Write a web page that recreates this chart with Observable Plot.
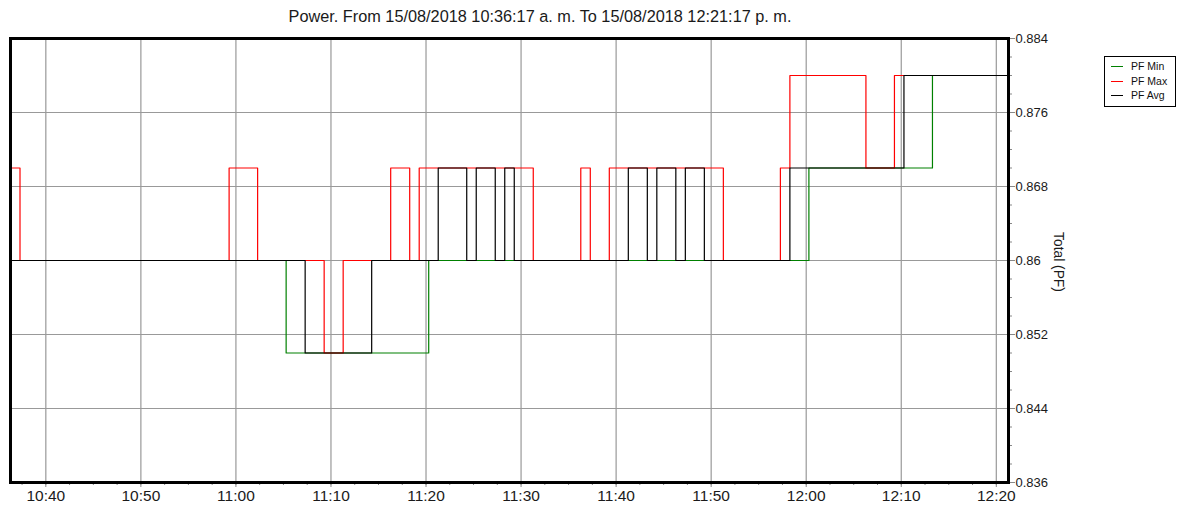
<!DOCTYPE html>
<html>
<head>
<meta charset="utf-8">
<script src="https://cdn.jsdelivr.net/npm/d3@7"></script>
<script src="https://cdn.jsdelivr.net/npm/@observablehq/plot@0.6"></script>
<style>
  html, body { margin: 0; padding: 0; background: #fff; }
  #wrap { position: relative; width: 1181px; height: 510px; font-family: "Liberation Sans", Arial, sans-serif; }
  #title { position: absolute; left: 0; width: 1080px; top: 7px; text-align: center; font-size: 16.3px; color: #1a1a1a; }
  #legend { position: absolute; left: 1104px; top: 56px; width: 72px; height: 51px; border: 1px solid #000; box-sizing: border-box; font-size: 10.5px; color: #111; }
  .row { position: absolute; left: 6px; width: 64px; height: 12px; }
  .sw { position: absolute; left: 0; top: 6px; width: 12px; height: 1px; }
  .tx { position: absolute; left: 20px; top: 0; line-height: 12px; white-space: nowrap; }
  #ylab { position: absolute; left: 1058px; top: 262px; transform: translate(-50%, -50%) rotate(90deg); font-size: 13.8px; color: #1a1a1a; white-space: nowrap; }
</style>
</head>
<body>
<div id="wrap">
  <div id="chart"></div>
  <div id="title"></div>
  <div id="ylab"></div>
  <div id="legend"></div>
</div>
<script>
// ---- data (step change points: segment start time and value) ----
const titleText = "Power. From 15/08/2018 10:36:17 a. m. To 15/08/2018 12:21:17 p. m.";
const yLabel = "Total (PF)";
const startTime = "10:36:17";
const endTime = "12:21:17";

const minTimes = ["10:36:17", "11:05:17", "11:20:17", "12:00:17", "12:13:17"];
const minValues = [0.86, 0.85, 0.86, 0.87, 0.88];

const maxTimes = ["10:36:17", "10:37:17", "10:59:17", "11:02:17", "11:09:17", "11:11:17", "11:16:17", "11:18:17", "11:19:17", "11:31:17", "11:36:17", "11:37:17", "11:39:17", "11:51:17", "11:57:17", "11:58:17", "12:06:17", "12:09:17"];
const maxValues = [0.87, 0.86, 0.87, 0.86, 0.85, 0.86, 0.87, 0.86, 0.87, 0.86, 0.87, 0.86, 0.87, 0.86, 0.87, 0.88, 0.87, 0.88];

const avgTimes = ["10:36:17", "11:07:17", "11:14:17", "11:21:17", "11:24:17", "11:25:17", "11:27:17", "11:28:17", "11:29:17", "11:41:17", "11:43:17", "11:44:17", "11:46:17", "11:47:17", "11:49:17", "11:58:17", "12:10:17"];
const avgValues = [0.86, 0.85, 0.86, 0.87, 0.86, 0.87, 0.86, 0.87, 0.86, 0.87, 0.86, 0.87, 0.86, 0.87, 0.86, 0.87, 0.88];

const seriesNames = ["PF Min", "PF Max", "PF Avg"];
const seriesColors = ["#008000", "#ff0000", "#000000"];

const xTickLabels = ["10:40", "10:50", "11:00", "11:10", "11:20", "11:30", "11:40", "11:50", "12:00", "12:10", "12:20"];
const yTicks = [0.836, 0.844, 0.852, 0.86, 0.868, 0.876, 0.884];
const yGridTicks = [0.844, 0.852, 0.86, 0.868, 0.876];

// ---- helpers ----
const toDate = s => { const [h, m, sec] = s.split(":").map(Number); return new Date(2018, 7, 15, h, m, sec || 0); };
const t0 = toDate(startTime), t1 = toDate(endTime);
function series(times, values, name) {
  const rows = times.map((t, i) => ({t: toDate(t), v: values[i], s: name}));
  rows.push({t: t1, v: values[values.length - 1], s: name});
  return rows;
}
const minData = series(minTimes, minValues, seriesNames[0]);
const maxData = series(maxTimes, maxValues, seriesNames[1]);
const avgData = series(avgTimes, avgValues, seriesNames[2]);

const xMajor = xTickLabels.map(toDate);
const xMinor = d3.range(0, 110, 2.5).map(m => new Date(toDate("10:35:00").getTime() + m * 60000)).filter(d => d >= t0 && d <= t1);
const yMinor = d3.range(836, 885, 2).map(v => v / 1000);

const chart = Plot.plot({
  width: 1181,
  height: 510,
  marginLeft: 10,
  marginRight: 173,
  marginTop: 38,
  marginBottom: 28,
  style: {fontFamily: "'Liberation Sans', Arial, sans-serif", color: "#1a1a1a", background: "white"},
  x: {type: "time", domain: [t0, t1]},
  y: {domain: [0.836, 0.884]},
  marks: [
    Plot.gridX(xMajor, {stroke: "#999", strokeOpacity: 1, strokeWidth: 1.2}),
    Plot.gridY(yGridTicks, {stroke: "#999", strokeOpacity: 1, strokeWidth: 1.2}),
    Plot.line(minData, {x: "t", y: "v", stroke: seriesColors[0], curve: "step-after", strokeWidth: 1.2}),
    Plot.line(maxData, {x: "t", y: "v", stroke: seriesColors[1], curve: "step-after", strokeWidth: 1.2}),
    Plot.line(avgData, {x: "t", y: "v", stroke: seriesColors[2], curve: "step-after", strokeWidth: 1.2}),
    Plot.axisX(xMinor, {tickSize: 3, tickFormat: () => "", label: null, stroke: "#888"}),
    Plot.axisX(xMajor, {tickSize: 5, tickPadding: 2, tickFormat: d3.timeFormat("%H:%M"), label: null, fontSize: 15.5, stroke: "#888"}),
    Plot.axisY(yMinor, {anchor: "right", tickSize: 3, tickFormat: () => "", label: null, stroke: "#888"}),
    Plot.axisY(yTicks, {anchor: "right", tickSize: 6, tickPadding: 1, tickFormat: d => String(+d.toFixed(3)), label: null, fontSize: 13, stroke: "#888"}),
    Plot.frame({stroke: "#000", strokeWidth: 3})
  ]
});
document.getElementById("chart").appendChild(chart);
document.getElementById("title").textContent = titleText;
document.getElementById("ylab").textContent = yLabel;

const legend = document.getElementById("legend");
seriesNames.forEach((n, i) => {
  const row = document.createElement("div");
  row.className = "row";
  row.style.top = (3 + i * 14.5) + "px";
  const sw = document.createElement("div");
  sw.className = "sw";
  sw.style.background = seriesColors[i];
  const tx = document.createElement("span");
  tx.className = "tx";
  tx.textContent = n;
  row.appendChild(sw);
  row.appendChild(tx);
  legend.appendChild(row);
});
</script>
</body>
</html>
